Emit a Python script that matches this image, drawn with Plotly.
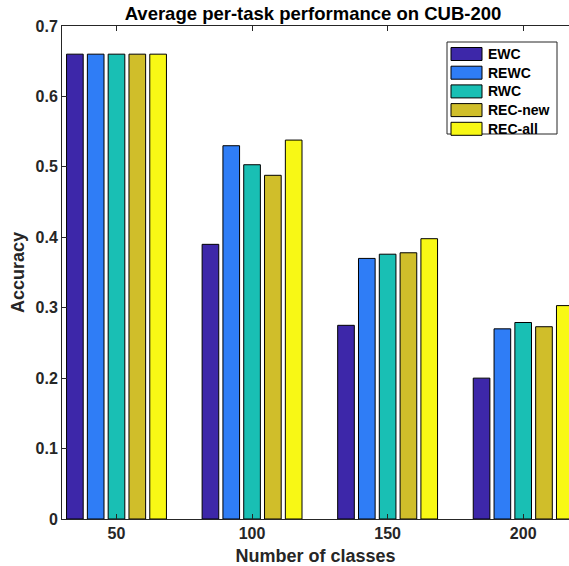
import plotly.graph_objects as go

categories = [50, 100, 150, 200]
series_names = ["EWC", "REWC", "RWC", "REC-new", "REC-all"]
ewc = [0.66, 0.390, 0.275, 0.200]
rewc = [0.66, 0.530, 0.370, 0.270]
rwc = [0.66, 0.503, 0.376, 0.279]
rec_new = [0.66, 0.488, 0.378, 0.273]
rec_all = [0.66, 0.538, 0.398, 0.303]
y_ticks = [0, 0.1, 0.2, 0.3, 0.4, 0.5, 0.6, 0.7]

series_values = [ewc, rewc, rwc, rec_new, rec_all]
colors = ["#3D27A9", "#2F7DF6", "#19BFB4", "#D0BE2A", "#F8F815"]

W, H = 569, 566
ML, MR, MT, MB = 62, 0, 26, 47
PW, PH = W - ML - MR, H - MT - MB
TXT = "#262626"
FONT = "Liberation Sans, Arial, sans-serif"

fig = go.Figure()
for name, vals, c in zip(series_names, series_values, colors):
    fig.add_trace(go.Bar(
        x=categories, y=vals, name=name,
        marker=dict(color=c, line=dict(color="#000000", width=1)),
        showlegend=False,
    ))

def px_x(p):
    return (p - ML) / PW

def px_y(p):
    return (H - MB - p) / PH

# manual legend (wide swatches as in reference)
shapes = []
annotations = []
shapes.append(dict(type="rect", xref="paper", yref="paper",
                   x0=px_x(447), x1=px_x(557), y0=px_y(134), y1=px_y(42),
                   line=dict(color=TXT, width=1), fillcolor="white", layer="above"))
entry_y0, entry_dy = 54, 18.7
for i, (name, c) in enumerate(zip(series_names, colors)):
    cy = entry_y0 + i * entry_dy
    shapes.append(dict(type="rect", xref="paper", yref="paper",
                       x0=px_x(451), x1=px_x(482), y0=px_y(cy + 6.5), y1=px_y(cy - 6.5),
                       line=dict(color="#000000", width=1), fillcolor=c, layer="above"))
    annotations.append(dict(xref="paper", yref="paper", x=px_x(485.5), y=px_y(cy),
                            xanchor="left", yanchor="middle", showarrow=False,
                            text="<b>%s</b>" % name,
                            font=dict(family=FONT, size=14, color="#000000")))

fig.update_layout(
    width=W, height=H,
    margin=dict(l=ML, r=MR, t=MT, b=MB, pad=0),
    paper_bgcolor="white", plot_bgcolor="white",
    barmode="group", bargap=0.2325, bargroupgap=0.2,
    font=dict(family=FONT, color=TXT),
    title=dict(text="<b>Average per-task performance on CUB-200</b>",
               x=313 / W, xanchor="center", y=1 - 13.5 / H, yanchor="middle",
               font=dict(family=FONT, size=18.5, color="#000000")),
    shapes=shapes, annotations=annotations,
    xaxis=dict(range=[29.9, 216.9], tickvals=categories,
               ticktext=["<b>%d</b>" % c for c in categories],
               ticks="inside", ticklen=5, tickcolor=TXT,
               showline=True, linecolor=TXT, linewidth=1, mirror="ticks",
               showgrid=False, zeroline=False,
               tickfont=dict(family=FONT, size=16, color=TXT),
               title=dict(text="<b>Number of classes</b>", standoff=10,
                          font=dict(family=FONT, size=18, color=TXT))),
    yaxis=dict(range=[0, 0.7], tickvals=y_ticks,
               ticktext=["<b>%g</b>" % v for v in y_ticks],
               ticks="inside", ticklen=5, tickcolor=TXT,
               showline=True, linecolor=TXT, linewidth=1, mirror=False,
               showgrid=False, zeroline=False,
               tickfont=dict(family=FONT, size=16, color=TXT),
               title=dict(text="<b>Accuracy</b>", standoff=6,
                          font=dict(family=FONT, size=18, color=TXT))),
)

fig.write_html("out.html")
